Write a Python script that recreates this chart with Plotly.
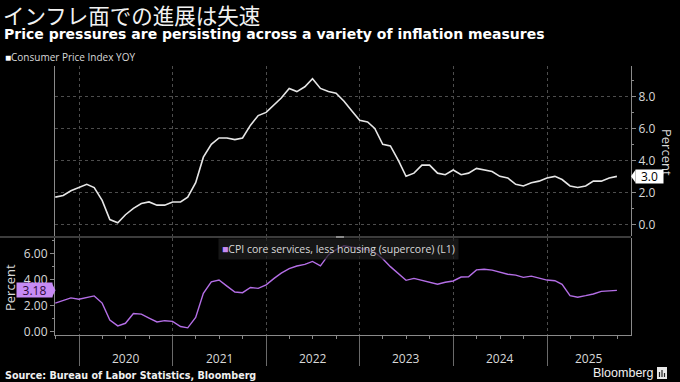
import pandas as pd
import plotly.graph_objects as go

# ---------------- data ----------------
months = pd.date_range("2019-09-30", periods=73, freq="ME")  # month-end, Sep 2019 .. Sep 2025

cpi_yoy = [
    1.7, 1.8, 2.1, 2.3,
    2.5, 2.3, 1.5, 0.3, 0.1, 0.6, 1.0, 1.3, 1.4, 1.2, 1.2, 1.4,
    1.4, 1.7, 2.6, 4.2, 5.0, 5.4, 5.4, 5.3, 5.4, 6.2, 6.8, 7.0,
    7.5, 7.9, 8.5, 8.3, 8.6, 9.1, 8.5, 8.3, 8.2, 7.7, 7.1, 6.5,
    6.4, 6.0, 5.0, 4.9, 4.0, 3.0, 3.2, 3.7, 3.7, 3.2, 3.1, 3.4,
    3.1, 3.2, 3.5, 3.4, 3.3, 3.0, 2.9, 2.5, 2.4, 2.6, 2.7, 2.9,
    3.0, 2.8, 2.4, 2.3, 2.4, 2.7, 2.7, 2.9, 3.0,
]

supercore = [
    2.2, 2.4, 2.6, 2.5,
    2.6, 2.75, 2.2, 0.9, 0.45, 0.65, 1.4, 1.35, 1.05, 0.75, 0.85, 0.8,
    0.4, 0.3, 1.1, 2.95, 3.84, 3.97, 3.5, 3.05, 3.0, 3.4, 3.33, 3.6,
    4.1, 4.5, 4.85, 5.05, 5.17, 5.4, 5.06, 5.9, 6.3, 6.6, 6.5, 6.4,
    6.3, 6.1, 5.6, 5.0, 4.5, 3.95, 4.1, 3.95, 3.8, 3.65, 3.8, 3.9,
    4.2, 4.22, 4.75, 4.8, 4.73, 4.55, 4.42, 4.35, 4.18, 4.27, 4.15, 3.97,
    3.92, 3.64, 2.77, 2.65, 2.77, 2.9, 3.1, 3.15, 3.18,
]

year_bounds = ["2020-01-01", "2021-01-01", "2022-01-01", "2023-01-01", "2024-01-01", "2025-01-01"]
year_label_pos = ["2020-07-01", "2021-07-01", "2022-07-01", "2023-07-01", "2024-07-01", "2025-06-13"]
year_labels = ["2020", "2021", "2022", "2023", "2024", "2025"]

top_ticks = [0, 2, 4, 6, 8]
bottom_ticks = [0, 2, 4, 6]

title_jp = "インフレ面での進展は失速"
subtitle = "Price pressures are persisting across a variety of inflation measures"
top_legend = "Consumer Price Index YOY"
bottom_legend = "CPI core services, less housing (supercore) (L1)"
source = "Source: Bureau of Labor Statistics, Bloomberg"

# ---------------- layout helpers ----------------
W, H = 680, 382
ML, MR, MT, MB = 55, 49, 66, 47
PW, PH = W - ML - MR, H - MT - MB


def px2x(px):
    return (px - ML) / PW


def py2y(py):
    return (H - MB - py) / PH


WHITE_LINE = "#e6e6e6"
PURPLE_LINE = "#b46ee6"
PURPLE_BADGE = "#c78bf5"
AXIS = "#8a8a8a"
GRID = "#4d4d4d"
TXT = "#d9d9d9"
FONT = "Open Sans"

fig = go.Figure()
fig.add_trace(go.Scatter(x=months, y=cpi_yoy, mode="lines", line=dict(color=WHITE_LINE, width=1.6),
                         xaxis="x", yaxis="y", showlegend=False, hoverinfo="skip"))
fig.add_trace(go.Scatter(x=months, y=supercore, mode="lines", line=dict(color=PURPLE_LINE, width=1.4),
                         xaxis="x2", yaxis="y2", showlegend=False, hoverinfo="skip"))

xrange = ["2019-09-29", "2025-11-24"]

fig.update_layout(
    width=W, height=H,
    margin=dict(l=ML, r=MR, t=MT, b=MB),
    paper_bgcolor="black", plot_bgcolor="black",
    font=dict(family=FONT, color=TXT, size=12),
    xaxis=dict(domain=[0, 1], range=xrange, type="date", anchor="y",
               tickmode="array", tickvals=year_bounds, showticklabels=False, ticks="",
               showgrid=True, gridcolor=GRID, griddash="dot", gridwidth=1,
               showline=False, zeroline=False),
    yaxis=dict(domain=[py2y(236), 1], range=[-0.73, 9.9], side="right", anchor="x",
               tickmode="array", tickvals=top_ticks, tickformat=".1f",
               ticks="outside", ticklen=4, tickcolor=AXIS, tickwidth=1,
               minor=dict(ticks="outside", ticklen=2, tickcolor=AXIS, dtick=1, tick0=0, showgrid=False),
               showline=True, linecolor=AXIS, linewidth=1, mirror=True,
               showgrid=True, gridcolor=GRID, griddash="dot", gridwidth=1,
               zeroline=False, tickfont=dict(size=12, color=TXT, family=FONT)),
    xaxis2=dict(domain=[0, 1], range=xrange, type="date", anchor="y2", matches="x",
                tickmode="array", tickvals=year_bounds, showticklabels=False,
                ticks="outside", ticklen=30, tickcolor="#6a6a6a", tickwidth=1,
                minor=dict(ticks="outside", ticklen=3, tickcolor=AXIS, dtick="M3", tick0="2020-01-01", showgrid=False),
                showgrid=True, gridcolor=GRID, griddash="dot", gridwidth=1,
                showline=True, linecolor=AXIS, linewidth=1, zeroline=False),
    yaxis2=dict(domain=[0, py2y(238)], range=[-0.25, 7.2], side="left", anchor="x2",
                tickmode="array", tickvals=bottom_ticks, tickformat=".2f",
                ticks="outside", ticklen=4, tickcolor=AXIS, tickwidth=1,
                minor=dict(ticks="outside", ticklen=2, tickcolor=AXIS, dtick=1, tick0=0, showgrid=False),
                showline=True, linecolor=AXIS, linewidth=1, mirror=True,
                showgrid=False, zeroline=False, tickfont=dict(size=12, color=TXT, family=FONT)),
)

ann = []
# titles
ann.append(dict(text=title_jp, x=px2x(1), y=py2y(15), xanchor="left", yanchor="middle",
                font=dict(family="Noto Sans CJK JP", size=21.5, color="#f2f2f2")))
ann.append(dict(text="<b>" + subtitle + "</b>", x=px2x(2), y=py2y(34), xanchor="left", yanchor="middle",
                font=dict(family="DejaVu Sans", size=14, color="#ffffff")))
ann.append(dict(text="<span style='color:#ffffff'>■</span>" + top_legend, x=px2x(3), y=py2y(57),
                xanchor="left", yanchor="middle", font=dict(family=FONT, size=10, color=TXT)))
# bottom legend box (semi-transparent, line shows through dimly)
ann.append(dict(text="<span style='color:" + PURPLE_BADGE + "'>■</span>" + bottom_legend,
                x=px2x(218), y=py2y(249), xanchor="left", yanchor="middle",
                bgcolor="rgba(30,30,30,0.72)", borderpad=3,
                font=dict(family=FONT, size=10.5, color=TXT)))
# axis titles
ann.append(dict(text="Percent", x=px2x(667), y=py2y(152), xanchor="center", yanchor="middle",
                textangle=90, font=dict(family=FONT, size=13, color=TXT)))
ann.append(dict(text="Percent", x=px2x(10), y=py2y(288), xanchor="center", yanchor="middle",
                textangle=-90, font=dict(family=FONT, size=13, color=TXT)))
# year labels
for pos, lab in zip(year_label_pos, year_labels):
    ann.append(dict(text=lab, x=pos, xref="x2", y=py2y(358), yref="paper", xanchor="center",
                    yanchor="middle", font=dict(family=FONT, size=12, color=TXT)))
# source & brand
ann.append(dict(text="<b>" + source + "</b>", x=px2x(3), y=py2y(375), xanchor="left", yanchor="middle",
                font=dict(family="DejaVu Sans", size=9.6, color="#f0f0f0")))
ann.append(dict(text="Bloomberg", x=px2x(655), y=py2y(373), xanchor="right", yanchor="middle",
                font=dict(family="Liberation Sans", size=12.5, color="#f0f0f0")))
# value badges
ann.append(dict(text=f"{cpi_yoy[-1]:.1f}", x=px2x(635), y=cpi_yoy[-1], yref="y", xanchor="left",
                yanchor="middle", bgcolor="#ffffff", borderpad=0, width=27, height=13,
                font=dict(family=FONT, size=12, color="#000000")))
ann.append(dict(text=f"{supercore[-1]:.2f}", x=px2x(52.5), y=supercore[-1], yref="y2", xanchor="right",
                yanchor="middle", bgcolor=PURPLE_BADGE, borderpad=0, width=35, height=14,
                font=dict(family=FONT, size=12, color="#2a0838")))

for a in ann:
    a.setdefault("xref", "paper")
    a.setdefault("yref", "paper")
    a["showarrow"] = False
fig.update_layout(annotations=ann)

shapes = []
# separator / slider bar between panels
shapes.append(dict(type="line", xref="paper", yref="paper", x0=px2x(0), x1=px2x(631),
                   y0=py2y(237), y1=py2y(237), line=dict(color="#3c3c3c", width=2)))
shapes.append(dict(type="line", xref="paper", yref="paper", x0=px2x(336), x1=px2x(344),
                   y0=py2y(237), y1=py2y(237), line=dict(color="#8a8a8a", width=2)))
# badge pointers
t = cpi_yoy[-1]
shapes.append(dict(type="path", xref="paper", yref="y",
                   path=f"M {px2x(631)},{t} L {px2x(635.5)},{t + 6.5/16} L {px2x(635.5)},{t - 6.5/16} Z",
                   fillcolor="#ffffff", line=dict(width=0)))
s = supercore[-1]
shapes.append(dict(type="path", xref="paper", yref="y2",
                   path=f"M {px2x(55.5)},{s} L {px2x(52)},{s + 7/13.1} L {px2x(52)},{s - 7/13.1} Z",
                   fillcolor=PURPLE_BADGE, line=dict(width=0)))
# brand logo
shapes.append(dict(type="rect", xref="paper", yref="paper", x0=px2x(657), x1=px2x(667),
                   y0=py2y(379), y1=py2y(367), fillcolor="#e8e8e8", line=dict(width=0)))
for bx, top in [(659.5, 372), (662, 370), (664.5, 373)]:
    shapes.append(dict(type="line", xref="paper", yref="paper", x0=px2x(bx), x1=px2x(bx),
                       y0=py2y(377), y1=py2y(top), line=dict(color="#222222", width=1.2)))
fig.update_layout(shapes=shapes)

fig.write_html("out.html", config={"displayModeBar": False},
               post_script="document.body.style.margin='0';document.body.style.background='black';")
